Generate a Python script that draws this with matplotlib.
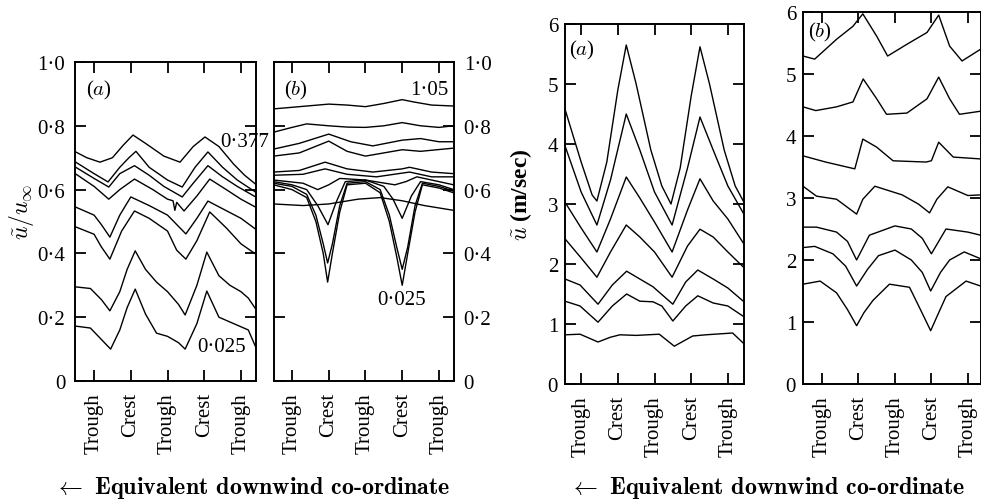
"""Streamwise velocity profiles over crests and troughs (two figure pairs)."""

import matplotlib

matplotlib.use("Agg")
import matplotlib.pyplot as plt

plt.rcParams["font.family"] = ["Liberation Serif", "DejaVu Serif"]
plt.rcParams["mathtext.fontset"] = "cm"

# x positions in units of half a wavelength: Trough=0, Crest=1, Trough=2, ...
TICK_POS = [0, 1, 2, 3, 4]
TICK_NAMES = ["Trough", "Crest", "Trough", "Crest", "Trough"]
LEFT_YTICKS = [0, 0.2, 0.4, 0.6, 0.8, 1.0]
LEFT_YLABELS = ["0", "0\u00b72", "0\u00b74", "0\u00b76", "0\u00b78", "1\u00b70"]
RIGHT_YTICKS = [0, 1, 2, 3, 4, 5, 6]

# ---- left figure, panel (a): u/u_inf ----
la1_u = [-0.5, -0.2, 0.16, 0.5, 0.8, 1.06, 1.4, 1.9, 2.34, 2.7, 3.02, 3.4, 3.8, 4.1, 4.4]
la1_v = [0.718, 0.70, 0.686, 0.70, 0.74, 0.771, 0.745, 0.705, 0.686, 0.735, 0.765, 0.735, 0.68, 0.645, 0.617]
la2_u = [-0.5, 0.0, 0.38, 0.7, 0.95, 1.14, 1.5, 2.0, 2.4, 2.75, 3.1, 3.5, 3.9, 4.4]
la2_v = [0.686, 0.65, 0.624, 0.67, 0.70, 0.72, 0.67, 0.63, 0.608, 0.67, 0.718, 0.67, 0.63, 0.592]
la3_u = [-0.5, 0.0, 0.4, 0.7, 1.1, 1.5, 1.9, 2.4, 2.7, 3.1, 3.5, 3.9, 4.4]
la3_v = [0.67, 0.635, 0.608, 0.65, 0.675, 0.645, 0.61, 0.577, 0.62, 0.675, 0.64, 0.61, 0.577]
la4_u = [-0.5, 0.0, 0.4, 0.7, 1.1, 1.6, 2.0, 2.15, 2.2, 2.25, 2.45, 2.8, 3.15, 3.6, 4.0, 4.4]
la4_v = [0.649, 0.61, 0.57, 0.60, 0.633, 0.60, 0.57, 0.565, 0.535, 0.56, 0.533, 0.58, 0.633, 0.60, 0.57, 0.545]
la5_u = [-0.5, 0.0, 0.2, 0.43, 0.7, 1.0, 1.5, 2.0, 2.5, 2.8, 3.1, 3.5, 4.0, 4.4]
la5_v = [0.545, 0.52, 0.49, 0.451, 0.52, 0.577, 0.55, 0.52, 0.461, 0.51, 0.564, 0.54, 0.51, 0.476]
la6_u = [-0.5, 0.0, 0.2, 0.43, 0.75, 1.1, 1.5, 2.0, 2.25, 2.5, 2.8, 3.15, 3.6, 4.0, 4.4]
la6_v = [0.483, 0.46, 0.42, 0.382, 0.47, 0.533, 0.51, 0.47, 0.41, 0.382, 0.44, 0.53, 0.48, 0.43, 0.398]
la7_u = [-0.5, -0.1, 0.2, 0.43, 0.7, 0.9, 1.12, 1.4, 1.7, 2.0, 2.3, 2.48, 2.8, 3.07, 3.4, 3.7, 4.0, 4.2, 4.4]
la7_v = [0.295, 0.29, 0.255, 0.22, 0.28, 0.35, 0.408, 0.35, 0.31, 0.28, 0.24, 0.207, 0.30, 0.404, 0.33, 0.30, 0.28, 0.26, 0.226]
la8_u = [-0.5, -0.1, 0.2, 0.45, 0.7, 0.9, 1.12, 1.4, 1.7, 2.0, 2.3, 2.48, 2.8, 3.07, 3.4, 3.8, 4.2, 4.4]
la8_v = [0.172, 0.166, 0.13, 0.10, 0.16, 0.23, 0.288, 0.21, 0.15, 0.14, 0.12, 0.10, 0.18, 0.282, 0.20, 0.18, 0.16, 0.107]

# ---- left figure, panel (b) ----
lb1_u = [-0.5, 0.2, 1.0, 1.5, 2.0, 2.5, 3.0, 3.3, 3.8, 4.4]
lb1_v = [0.853, 0.86, 0.868, 0.865, 0.86, 0.87, 0.882, 0.875, 0.865, 0.862]
lb2_u = [-0.5, 0.0, 0.4, 1.0, 1.5, 2.0, 2.5, 3.0, 3.5, 4.0, 4.4]
lb2_v = [0.78, 0.795, 0.806, 0.80, 0.796, 0.795, 0.80, 0.81, 0.80, 0.795, 0.80]
lb3_u = [-0.5, 0.2, 1.0, 1.6, 2.2, 3.0, 3.5, 4.0, 4.4]
lb3_v = [0.727, 0.745, 0.774, 0.75, 0.737, 0.755, 0.76, 0.75, 0.75]
lb4_u = [-0.5, 0.2, 1.0, 1.5, 2.0, 2.5, 3.0, 3.5, 4.4]
lb4_v = [0.705, 0.715, 0.752, 0.72, 0.705, 0.715, 0.725, 0.72, 0.73]
lb5_u = [-0.5, 0.2, 0.9, 1.5, 2.2, 3.0, 3.2, 3.8, 4.4]
lb5_v = [0.655, 0.66, 0.686, 0.665, 0.655, 0.665, 0.67, 0.655, 0.65]
lb6_u = [-0.5, 0.3, 0.9, 1.5, 2.3, 3.2, 3.8, 4.4]
lb6_v = [0.645, 0.648, 0.665, 0.648, 0.64, 0.655, 0.64, 0.64]
lb7_u = [-0.5, 0.3, 0.7, 1.0, 1.3, 2.0, 2.8, 3.1, 3.4, 4.0, 4.4]
lb7_v = [0.63, 0.62, 0.60, 0.615, 0.635, 0.63, 0.615, 0.625, 0.64, 0.625, 0.615]
lb8_u = [-0.5, 0.0, 0.4, 0.7, 0.98, 1.2, 1.45, 2.0, 2.5, 2.75, 3.0, 3.25, 3.5, 4.0, 4.4]
lb8_v = [0.625, 0.615, 0.60, 0.55, 0.49, 0.56, 0.625, 0.63, 0.61, 0.57, 0.51, 0.58, 0.625, 0.615, 0.60]
lb9_u = [-0.5, 0.0, 0.4, 0.65, 0.85, 0.97, 1.1, 1.3, 1.5, 2.0, 2.4, 2.65, 2.85, 3.0, 3.15, 3.35, 3.55, 4.0, 4.4]
lb9_v = [0.62, 0.61, 0.585, 0.52, 0.43, 0.37, 0.43, 0.55, 0.62, 0.625, 0.60, 0.52, 0.42, 0.35, 0.42, 0.55, 0.62, 0.61, 0.595]
lb10_u = [-0.5, 0.0, 0.4, 0.65, 0.85, 0.97, 1.1, 1.3, 1.5, 2.0, 2.4, 2.65, 2.85, 3.0, 3.15, 3.35, 3.55, 4.0, 4.4]
lb10_v = [0.615, 0.60, 0.575, 0.50, 0.40, 0.31, 0.40, 0.53, 0.615, 0.62, 0.59, 0.50, 0.39, 0.30, 0.40, 0.53, 0.615, 0.605, 0.59]
lb11_u = [-0.5, 0.3, 1.0, 1.8, 2.4, 3.0, 3.6, 4.4]
lb11_v = [0.555, 0.55, 0.555, 0.57, 0.575, 0.565, 0.55, 0.535]

# ---- right figure, panel (a): u in m/sec ----
ra1_u = [-0.44, 0.0, 0.3, 0.43, 0.7, 1.0, 1.23, 1.5, 1.9, 2.2, 2.45, 2.7, 3.0, 3.24, 3.5, 3.9, 4.2, 4.42]
ra1_v = [4.58, 3.7, 3.15, 3.05, 3.7, 4.9, 5.65, 5.0, 3.9, 3.3, 3.0, 3.6, 4.8, 5.62, 5.0, 3.9, 3.3, 3.05]
ra2_u = [-0.44, 0.0, 0.43, 0.8, 1.23, 1.6, 2.0, 2.48, 2.9, 3.24, 3.6, 4.0, 4.42]
ra2_v = [3.97, 3.2, 2.65, 3.4, 4.5, 3.9, 3.2, 2.65, 3.6, 4.45, 3.9, 3.3, 2.85]
ra3_u = [-0.44, 0.0, 0.43, 0.8, 1.23, 1.6, 2.0, 2.48, 2.9, 3.24, 3.6, 4.0, 4.42]
ra3_v = [3.03, 2.6, 2.2, 2.75, 3.45, 3.1, 2.7, 2.2, 2.9, 3.42, 3.05, 2.75, 2.35]
ra4_u = [-0.44, 0.0, 0.43, 0.8, 1.23, 1.6, 2.0, 2.48, 2.9, 3.24, 3.6, 4.0, 4.42]
ra4_v = [2.42, 2.1, 1.78, 2.2, 2.65, 2.45, 2.2, 1.78, 2.3, 2.58, 2.45, 2.2, 1.95]
ra5_u = [-0.44, -0.03, 0.46, 0.85, 1.24, 1.6, 1.96, 2.5, 2.85, 3.18, 3.6, 4.0, 4.44]
ra5_v = [1.75, 1.65, 1.33, 1.65, 1.88, 1.75, 1.62, 1.33, 1.7, 1.9, 1.75, 1.6, 1.37]
ra6_u = [-0.44, -0.03, 0.46, 0.85, 1.24, 1.6, 1.96, 2.2, 2.5, 2.85, 3.18, 3.6, 4.0, 4.44]
ra6_v = [1.38, 1.3, 1.03, 1.3, 1.5, 1.38, 1.37, 1.3, 1.05, 1.3, 1.47, 1.35, 1.3, 1.12]
ra7_u = [-0.44, -0.03, 0.46, 0.8, 1.06, 1.5, 2.13, 2.54, 3.04, 3.4, 4.13, 4.44]
ra7_v = [0.82, 0.83, 0.70, 0.78, 0.82, 0.81, 0.83, 0.63, 0.80, 0.82, 0.85, 0.67]

# ---- right figure, panel (b) ----
rb1_u = [-0.52, -0.2, 0.4, 0.85, 1.12, 1.5, 1.8, 2.33, 2.88, 3.2, 3.5, 3.84, 4.35]
rb1_v = [5.29, 5.24, 5.56, 5.77, 5.97, 5.61, 5.29, 5.48, 5.67, 5.95, 5.45, 5.21, 5.40]
rb2_u = [-0.52, -0.17, 0.4, 0.85, 1.13, 1.5, 1.77, 2.33, 2.88, 3.2, 3.5, 3.77, 4.35]
rb2_v = [4.47, 4.41, 4.47, 4.55, 4.92, 4.6, 4.35, 4.37, 4.6, 4.95, 4.6, 4.35, 4.40]
rb3_u = [-0.52, 0.1, 0.9, 1.12, 1.5, 1.95, 2.85, 3.0, 3.2, 3.6, 4.35]
rb3_v = [3.68, 3.58, 3.47, 3.95, 3.82, 3.6, 3.58, 3.6, 3.9, 3.66, 3.63]
rb4_u = [-0.52, -0.15, 0.4, 0.95, 1.12, 1.45, 2.2, 2.65, 2.95, 3.15, 3.45, 4.0, 4.35]
rb4_v = [3.19, 3.03, 2.98, 2.74, 2.98, 3.19, 3.05, 2.9, 2.76, 2.98, 3.18, 3.04, 3.05]
rb5_u = [-0.52, -0.15, 0.4, 0.7, 0.95, 1.3, 2.0, 2.45, 2.75, 3.0, 3.4, 4.0, 4.35]
rb5_v = [2.53, 2.53, 2.45, 2.3, 2.0, 2.4, 2.55, 2.5, 2.35, 2.1, 2.5, 2.45, 2.4]
rb6_u = [-0.52, -0.2, 0.3, 0.65, 0.95, 1.25, 1.55, 2.0, 2.45, 2.75, 2.98, 3.25, 3.5, 3.9, 4.35]
rb6_v = [2.2, 2.22, 2.1, 1.9, 1.58, 1.85, 2.07, 2.16, 2.0, 1.8, 1.5, 1.8, 2.0, 2.13, 2.02]
rb7_u = [-0.52, -0.05, 0.4, 0.7, 0.95, 1.15, 1.4, 1.85, 2.4, 2.7, 2.98, 3.2, 3.4, 3.95, 4.35]
rb7_v = [1.61, 1.66, 1.47, 1.2, 0.94, 1.15, 1.35, 1.61, 1.56, 1.2, 0.86, 1.15, 1.41, 1.66, 1.58]

W, H = 981, 502
SERIF = ["Liberation Serif", "DejaVu Serif"]


def _axes(fig, x0, x1, y_top, y_bot):
    return fig.add_axes([x0 / W, 1 - y_bot / H, (x1 - x0) / W, (y_bot - y_top) / H])


def _style(ax, xlim, ylim, yticks, ylabels, label_side="left", ypad=5):
    ax.set_xlim(*xlim)
    ax.set_ylim(*ylim)
    for sp in ax.spines.values():
        sp.set_linewidth(1.4)
    ax.set_xticks(TICK_POS)
    ax.set_xticklabels(TICK_NAMES, rotation=90, fontsize=15, family=SERIF, va="top")
    ax.set_yticks(yticks)
    ax.set_yticklabels(ylabels, fontsize=15, family=SERIF)
    ax.tick_params(axis="x", direction="in", top=True, bottom=True, length=8, width=1.3, pad=8)
    ax.tick_params(axis="y", direction="in", left=True, right=True, length=8, width=1.3, pad=ypad)
    if label_side == "right":
        ax.tick_params(axis="y", labelleft=False, labelright=True)


def _curves(ax, pairs):
    for u, v in pairs:
        ax.plot(u, v, color="black", linewidth=1.0)


def main():
    fig = plt.figure(figsize=(W / 100, H / 100), dpi=100)

    ax = _axes(fig, 75, 256, 63, 382)
    _style(ax, (-0.52, 4.41), (0, 1), LEFT_YTICKS, LEFT_YLABELS, ypad=7)
    _curves(ax, [(la1_u, la1_v), (la2_u, la2_v), (la3_u, la3_v), (la4_u, la4_v),
                 (la5_u, la5_v), (la6_u, la6_v), (la7_u, la7_v), (la8_u, la8_v)])
    ax.text(0.14, 0.915, "($a$)", fontsize=15, ha="center", va="center")
    ax.text(4.1, 0.75, "0\u00b7377", fontsize=15, ha="center", va="center", clip_on=False)
    ax.text(3.48, 0.107, "0\u00b7025", fontsize=15, ha="center", va="center")

    ax = _axes(fig, 274, 454, 63, 382)
    _style(ax, (-0.49, 4.41), (0, 1), LEFT_YTICKS, LEFT_YLABELS, label_side="right", ypad=7)
    _curves(ax, [(lb1_u, lb1_v), (lb2_u, lb2_v), (lb3_u, lb3_v), (lb4_u, lb4_v),
                 (lb5_u, lb5_v), (lb6_u, lb6_v), (lb7_u, lb7_v), (lb8_u, lb8_v),
                 (lb9_u, lb9_v), (lb10_u, lb10_v), (lb11_u, lb11_v)])
    ax.text(0.1, 0.915, "($b$)", fontsize=15, ha="center", va="center")
    ax.text(3.75, 0.915, "1\u00b705", fontsize=15, ha="center", va="center")
    ax.text(2.97, 0.257, "0\u00b7025", fontsize=15, ha="center", va="center")

    ax = _axes(fig, 565, 744, 25, 385)
    _style(ax, (-0.44, 4.44), (0, 6), RIGHT_YTICKS, [str(t) for t in RIGHT_YTICKS])
    _curves(ax, [(ra1_u, ra1_v), (ra2_u, ra2_v), (ra3_u, ra3_v), (ra4_u, ra4_v),
                 (ra5_u, ra5_v), (ra6_u, ra6_v), (ra7_u, ra7_v)])
    ax.text(0.03, 5.58, "($a$)", fontsize=15, ha="center", va="center")

    ax = _axes(fig, 803, 981, 13, 385)
    _style(ax, (-0.52, 4.36), (0, 6), RIGHT_YTICKS, [str(t) for t in RIGHT_YTICKS])
    _curves(ax, [(rb1_u, rb1_v), (rb2_u, rb2_v), (rb3_u, rb3_v), (rb4_u, rb4_v),
                 (rb5_u, rb5_v), (rb6_u, rb6_v), (rb7_u, rb7_v)])
    ax.text(-0.05, 5.68, "($b$)", fontsize=15, ha="center", va="center")

    fig.text(22 / W, 1 - 212 / H, r"$\tilde{u}/u_\infty$", fontsize=17, rotation=90,
             ha="center", va="center")
    fig.text(521 / W, 1 - 195 / H, r"$\tilde{u}$ (m/sec)", fontsize=17, rotation=90,
             ha="center", va="center", fontweight="bold")
    for cx in (252, 767):
        fig.text(cx / W, 1 - 488 / H, r"$\leftarrow$ Equivalent downwind co-ordinate",
                 fontsize=17.3, ha="center", va="center", family=["cmb10", "DejaVu Serif"])

    fig.savefig("out.png", dpi=100)
    plt.close(fig)


if __name__ == "__main__":
    main()
